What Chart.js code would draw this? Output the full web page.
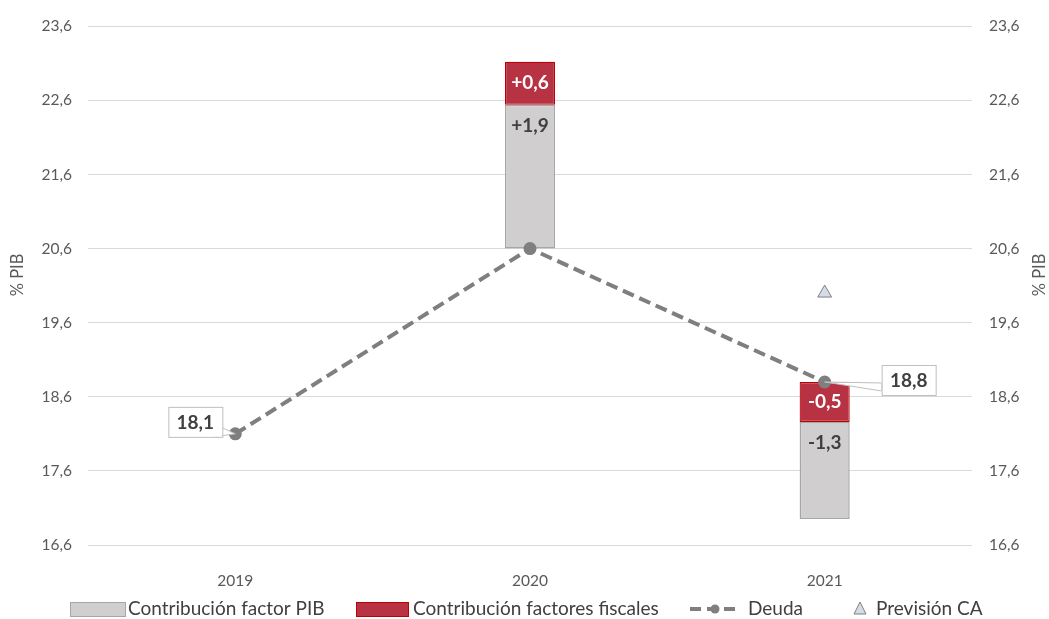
<!DOCTYPE html>
<html>
<head>
<meta charset="utf-8">
<script src="https://cdn.jsdelivr.net/npm/chart.js@4"></script>
<style>
    body { margin: 0; background: #fff; }
</style>
</head>
<body>
<canvas id="_deuda_chart" width="1049" height="619"></canvas>
<script>
const years = ['2019', '2020', '2021'];
const deuda = [18.1, 20.6, 18.8];
const factor_pib = [null, 1.94, -1.31];
const factores_fiscales = [null, 0.58, -0.54];
const prevision_ca = [null, null, 20.0];
const y_ticks = [16.6, 17.6, 18.6, 19.6, 20.6, 21.6, 22.6, 23.6];
const legend_labels = ['Contribución factor PIB', 'Contribución factores fiscales', 'Deuda', 'Previsión CA'];
const axis_title = '% PIB';

const font_family = "Lato, 'Open Sans', sans-serif";
const gray_fill = '#d0cecf', gray_border = '#a6a6a6';
const red_fill = '#b73344', red_border = '#c00000';
const line_color = '#7f7f7f';
const text_color = '#595959';

// floating bars start from the debt level of the year
let pib_bars = [];
let fiscal_bars = [];
for (let i = 0; i < years.length; i++) {
    if (factor_pib[i] === null) {
        pib_bars.push(null);
        fiscal_bars.push(null);
        continue;
    }
    let base = deuda[i];
    if (factor_pib[i] + factores_fiscales[i] >= 0) {
        pib_bars.push([base, base + factor_pib[i]]);
        fiscal_bars.push([base + factor_pib[i], base + factor_pib[i] + factores_fiscales[i]]);
    } else {
        fiscal_bars.push([base, base + factores_fiscales[i]]);
        pib_bars.push([base + factores_fiscales[i], base + factores_fiscales[i] + factor_pib[i]]);
    }
}

function fmt(v) {
    return v.toFixed(1).replace('.', ',');
}
function fmtSigned(v) {
    return (v > 0 ? '+' : '') + fmt(v);
}

// where the callout boxes for Deuda sit, relative to the point
const callout_offsets = [[-40, -12], null, [84, -2]];

const labelsPlugin = {
    id: 'labels',
    afterDatasetsDraw(chart) {
        const ctx = chart.ctx;
        ctx.save();
        ctx.font = 'bold 19px ' + font_family;
        ctx.textAlign = 'center';
        ctx.textBaseline = 'middle';

        chart.getDatasetMeta(1).data.forEach((bar, i) => {
            if (factores_fiscales[i] === null) return;
            ctx.fillStyle = '#ffffff';
            ctx.fillText(fmtSigned(factores_fiscales[i]), bar.x, (bar.y + bar.base) / 2);
        });
        chart.getDatasetMeta(0).data.forEach((bar, i) => {
            if (factor_pib[i] === null) return;
            ctx.fillStyle = '#404040';
            ctx.fillText(fmtSigned(factor_pib[i]), bar.x, Math.min(bar.y, bar.base) + 21);
        });

        // callouts for Deuda
        chart.getDatasetMeta(2).data.forEach((pt, i) => {
            const off = callout_offsets[i];
            if (!off) return;
            const w = 54, h = 30;
            const cx = pt.x + off[0], cy = pt.y + off[1];
            const left = cx - w / 2, top = cy - h / 2;
            let a, b;
            if (off[0] < 0) {
                a = [left + w, top + h - 9];
                b = [left + w - 8, top + h];
            } else {
                a = [left, top + h - 12];
                b = [left, top + h - 4];
            }
            ctx.fillStyle = '#ffffff';
            ctx.strokeStyle = '#bfbfbf';
            ctx.lineWidth = 1;
            ctx.beginPath();
            ctx.moveTo(a[0], a[1]);
            ctx.lineTo(pt.x, pt.y);
            ctx.lineTo(b[0], b[1]);
            ctx.closePath();
            ctx.fill();
            ctx.stroke();
            ctx.fillRect(left, top, w, h);
            ctx.strokeRect(left + 0.5, top + 0.5, w, h);
            ctx.fillStyle = '#404040';
            ctx.fillText(fmt(deuda[i]), cx, cy + 1);
        });
        ctx.restore();
    },
    afterDraw(chart) {
        const ctx = chart.ctx;
        ctx.save();
        // axis titles
        ctx.font = '16.5px ' + font_family;
        ctx.fillStyle = text_color;
        ctx.textAlign = 'center';
        ctx.textBaseline = 'middle';
        [18, 1040].forEach(x => {
            ctx.save();
            ctx.translate(x, 275);
            ctx.rotate(-Math.PI / 2);
            ctx.fillText(axis_title, 0, 0);
            ctx.restore();
        });

        // legend
        const ly = 609;
        ctx.font = '19px ' + font_family;
        ctx.textAlign = 'left';

        ctx.fillStyle = gray_fill;
        ctx.fillRect(70, ly - 7, 55, 14);
        ctx.strokeStyle = gray_border;
        ctx.lineWidth = 1;
        ctx.strokeRect(70.5, ly - 6.5, 55, 14);
        ctx.fillStyle = '#404040';
        ctx.fillText(legend_labels[0], 128, ly);

        ctx.fillStyle = red_fill;
        ctx.fillRect(356, ly - 7, 52, 14);
        ctx.strokeStyle = red_border;
        ctx.strokeRect(356.5, ly - 6.5, 52, 14);
        ctx.fillStyle = '#404040';
        ctx.fillText(legend_labels[1], 413, ly);

        ctx.strokeStyle = line_color;
        ctx.lineWidth = 4;
        ctx.setLineDash([11, 6]);
        ctx.beginPath();
        ctx.moveTo(690, ly);
        ctx.lineTo(740, ly);
        ctx.stroke();
        ctx.setLineDash([]);
        ctx.fillStyle = line_color;
        ctx.beginPath();
        ctx.arc(715, ly, 4.5, 0, Math.PI * 2);
        ctx.fill();
        ctx.fillStyle = '#404040';
        ctx.fillText(legend_labels[2], 748, ly);

        ctx.fillStyle = '#d6dce5';
        ctx.strokeStyle = line_color;
        ctx.lineWidth = 1;
        ctx.beginPath();
        ctx.moveTo(860, ly - 7);
        ctx.lineTo(866, ly + 5);
        ctx.lineTo(854, ly + 5);
        ctx.closePath();
        ctx.fill();
        ctx.stroke();
        ctx.fillStyle = '#404040';
        ctx.fillText(legend_labels[3], 876, ly);
        ctx.restore();
    }
};

const tick_font = {family: font_family, size: 15.5};
const setTicks = (scale) => {
    scale.ticks = y_ticks.map(v => ({value: v}));
};

const ctx = document.getElementById('_deuda_chart');
const deuda_chart = new Chart(ctx, {
    type: 'bar',
    data: {
        labels: years,
        datasets: [
            {
                label: legend_labels[0],
                data: pib_bars,
                backgroundColor: gray_fill,
                borderColor: gray_border,
                borderWidth: 1.5,
                borderSkipped: false,
                grouped: false,
                barPercentage: 0.17,
                categoryPercentage: 1,
                order: 2
            },
            {
                label: legend_labels[1],
                data: fiscal_bars,
                backgroundColor: red_fill,
                borderColor: red_border,
                borderWidth: 1.2,
                borderSkipped: false,
                grouped: false,
                barPercentage: 0.17,
                categoryPercentage: 1,
                order: 1
            },
            {
                type: 'line',
                label: legend_labels[2],
                data: deuda,
                borderColor: line_color,
                borderWidth: 4,
                borderDash: [12, 6],
                pointRadius: 4.5,
                pointBackgroundColor: line_color,
                pointBorderColor: line_color,
                tension: 0,
                order: 0
            },
            {
                type: 'line',
                label: legend_labels[3],
                data: prevision_ca,
                showLine: false,
                pointStyle: 'triangle',
                pointRadius: 8,
                pointBackgroundColor: '#d6dce5',
                pointBorderColor: line_color,
                pointBorderWidth: 1,
                order: 0
            }
        ]
    },
    options: {
        responsive: false,
        animation: false,
        devicePixelRatio: 1,
        layout: {
            padding: {top: 24, left: 0, right: 0, bottom: 0}
        },
        plugins: {
            legend: {display: false},
            tooltip: {enabled: false}
        },
        scales: {
            x: {
                grid: {display: false},
                border: {display: false},
                ticks: {color: text_color, font: tick_font, padding: 19},
                afterFit: (s) => { s.height = 74; }
            },
            y: {
                position: 'left',
                min: 16.6,
                max: 23.6,
                afterBuildTicks: setTicks,
                grid: {color: '#d9d9d9', drawTicks: false},
                border: {display: false},
                ticks: {color: text_color, font: tick_font, padding: 16, callback: (v) => fmt(v)},
                afterFit: (s) => { s.width = 88; }
            },
            y2: {
                position: 'right',
                min: 16.6,
                max: 23.6,
                afterBuildTicks: setTicks,
                grid: {display: false, drawTicks: false},
                border: {display: false},
                ticks: {color: text_color, font: tick_font, padding: 17, callback: (v) => fmt(v)},
                afterFit: (s) => { s.width = 77; }
            }
        }
    },
    plugins: [labelsPlugin]
});
</script>
</body>
</html>
